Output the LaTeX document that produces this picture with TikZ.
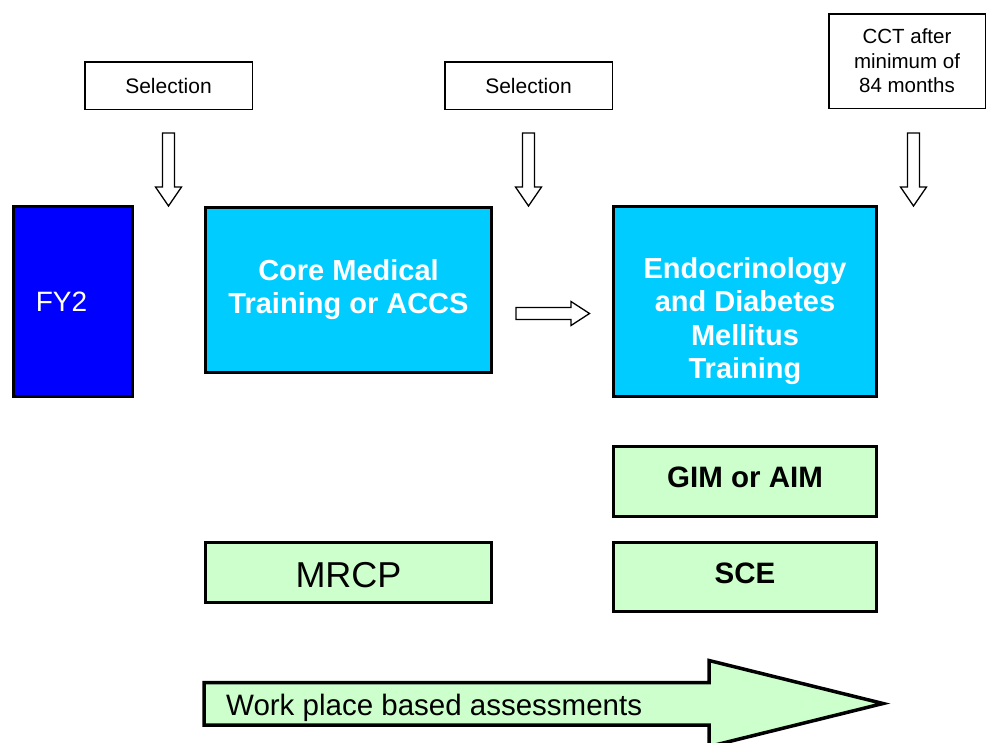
\documentclass[tikz,border=0pt]{standalone}
\usepackage{fontspec}
\setmainfont{Liberation Sans}
\definecolor{fyblue}{RGB}{0,0,255}
\definecolor{cyanbox}{RGB}{0,204,255}
\definecolor{lgreen}{RGB}{204,255,204}
\begin{document}
\begin{tikzpicture}[x=1pt,y=-1pt,
  selbox/.style={draw=black, line width=1.5pt, fill=white, inner sep=0pt, align=center,
    font=\fontsize{20.5}{24.4}\selectfont},
  bigbox/.style={draw=black, line width=3pt, inner sep=0pt, align=center},
  bluebox/.style={bigbox, fill=fyblue},
  cyanbox/.style={bigbox, fill=cyanbox},
  greenbox/.style={bigbox, fill=lgreen},
  whitebold/.style={text=white, inner sep=0pt, align=center, font=\fontsize{29}{33.5}\selectfont\bfseries},
  blackbold/.style={text=black, inner sep=0pt, font=\fontsize{29.5}{34}\selectfont\bfseries},
  blockarr/.style={draw=black, fill=white, line width=1.3pt, line join=miter},
  bigarr/.style={draw=black, fill=lgreen, line width=3.5pt, line join=miter}
]
\useasboundingbox (0,0) rectangle (987,742);
\clip (0,0) rectangle (987,742);

% top boxes
\node[selbox, font=\fontsize{21}{25}\selectfont, minimum width=167.5pt, minimum height=47.5pt] (sel1) at (168.5,85.5) {Selection};
\node[selbox, font=\fontsize{21}{25}\selectfont, minimum width=167.5pt, minimum height=47.5pt] (sel2) at (528.5,85.5) {Selection};
\node[selbox, minimum width=156.5pt, minimum height=94.5pt] (cct) at (907,61) {CCT after\\minimum of\\84 months};

% down block arrows
\foreach \cx in {168.5,528.5,913.5}{
  \draw[blockarr] (\cx-6,133) -- (\cx+6,133) -- (\cx+6,187) -- (\cx+13,187)
     -- (\cx,206) -- (\cx-13,187) -- (\cx-6,187) -- cycle;
}

% main boxes
\node[bluebox, minimum width=119pt, minimum height=190pt] (fy2) at (73,301.5) {};
\node[text=white, inner sep=0pt, font=\fontsize{28}{32}\selectfont] (fy2t) at (61.5,302) {FY2};

\node[cyanbox, minimum width=286pt, minimum height=165pt] (core) at (348.5,290) {};
\node[whitebold] (coret) at (348.5,289.5) {Core Medical\\Training or ACCS};

\node[cyanbox, minimum width=263pt, minimum height=190pt] (endo) at (745,301.5) {};
\node[whitebold] (endot) at (745,321) {Endocrinology\\and Diabetes\\Mellitus\\Training};

% right block arrow
\draw[blockarr] (516,307.5) -- (571,307.5) -- (571,301.5) -- (589.5,313.5)
   -- (571,325.5) -- (571,319.5) -- (516,319.5) -- cycle;

% green boxes
\node[greenbox, minimum width=263pt, minimum height=70pt] (gim) at (745,481.5) {};
\node[blackbold] (gimt) at (745,477) {GIM or AIM};

\node[greenbox, minimum width=286pt, minimum height=60pt] (mrcp) at (348.5,572.5) {};
\node[inner sep=0pt, font=\fontsize{36}{40}\selectfont] (mrcpt) at (348.5,575) {MRCP};

\node[greenbox, minimum width=263pt, minimum height=69pt] (sce) at (745,577) {};
\node[blackbold] (scet) at (745,573) {SCE};

% big arrow
\draw[bigarr] (204,682.5) -- (709,682.5) -- (709,660.5) -- (883,703.5)
  -- (709,746.5) -- (709,725) -- (204,725) -- cycle;
\node[anchor=base west, inner sep=0pt, font=\fontsize{29.5}{33}\selectfont] (wpba) at (226,715) {Work place based assessments};
\end{tikzpicture}
\end{document}
